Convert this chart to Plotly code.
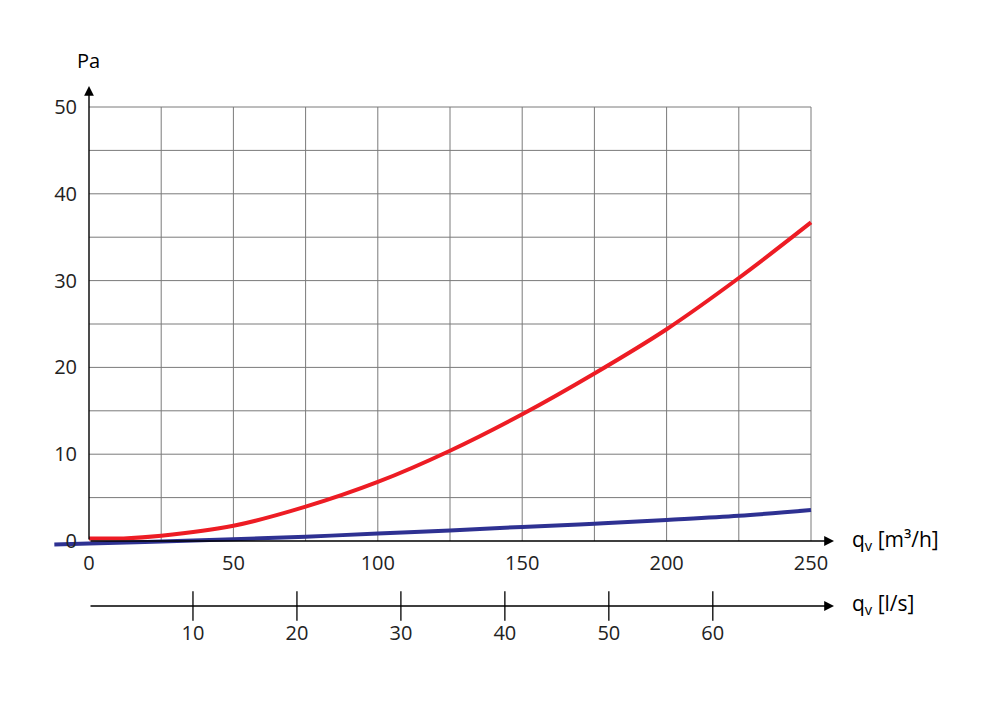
import plotly.graph_objects as go

# ---------------- data ----------------
red_q = [0, 12, 25, 50, 75, 100, 125, 150, 175, 200, 225, 250]
red_pa = [0.3, 0.3, 0.6, 1.75, 3.95, 6.8, 10.4, 14.6, 19.3, 24.4, 30.3, 36.7]

blue_q = [-12, 0, 25, 50, 75, 100, 125, 150, 175, 200, 225, 250]
blue_pa = [-0.4, -0.28, -0.05, 0.2, 0.5, 0.85, 1.22, 1.62, 1.98, 2.42, 2.9, 3.57]

x_ticks = [0, 50, 100, 150, 200, 250]
x_grid = [25, 50, 75, 100, 125, 150, 175, 200, 225, 250]
y_ticks = [0, 10, 20, 30, 40, 50]
y_grid = [5, 10, 15, 20, 25, 30, 35, 40, 45, 50]
ls_ticks = [10, 20, 30, 40, 50, 60]
ls_factor = 3.6  # m3/h per l/s

# ---------------- geometry (page pixel targets) ----------------
W, H = 1000, 706
OFF = 8  # page body margin
left_pg, right_pg, top_pg, bot_pg = 50, 850, 78, 660
ml = left_pg - OFF
mt = top_pg - OFF
mr = W - (right_pg - OFF)
mb = H - (bot_pg - OFF)
pw, ph = right_pg - left_pg, bot_pg - top_pg
x0px, x250px = 89, 811
y0px, y50px = 541, 107
sx = (x250px - x0px) / 250.0
sy = (y0px - y50px) / 50.0
xr = [(left_pg - x0px) / sx, (right_pg - x0px) / sx]
yr = [(y0px - bot_pg) / sy, (y0px - top_pg) / sy]

def px_to_y(p):
    return (y0px - p) / sy

def px_to_x(p):
    return (p - x0px) / sx

def paper_x(p):
    return (p - left_pg) / pw

def paper_y(p):
    return (bot_pg - p) / ph

ls_line_y = px_to_y(606)
font = "Open Sans"

fig = go.Figure()

shapes = []
for g in x_grid:
    shapes.append(dict(type="line", xref="x", yref="y", x0=g, x1=g, y0=0, y1=50,
                       line=dict(color="#7a7a7a", width=1), layer="below"))
for g in y_grid:
    shapes.append(dict(type="line", xref="x", yref="y", x0=0, x1=250, y0=g, y1=g,
                       line=dict(color="#7a7a7a", width=1), layer="below"))

fig.add_trace(go.Scatter(x=blue_q, y=blue_pa, mode="lines",
                         line=dict(color="#2e3192", width=4, shape="spline", smoothing=1.0),
                         hoverinfo="skip", showlegend=False))
fig.add_trace(go.Scatter(x=red_q, y=red_pa, mode="lines",
                         line=dict(color="#ed1c24", width=4, shape="spline", smoothing=1.0),
                         hoverinfo="skip", showlegend=False))

# l/s tick marks
fig.add_trace(go.Scatter(x=ls_ticks, y=[ls_line_y] * len(ls_ticks), xaxis="x2", yaxis="y", mode="markers",
                         marker=dict(symbol="line-ns", size=21, line=dict(color="black", width=1.3)),
                         hoverinfo="skip", showlegend=False))

arrow_common = dict(text="", showarrow=True, arrowhead=2, arrowsize=1.4, arrowwidth=1.4,
                    arrowcolor="black", axref="x", ayref="y", xref="x", yref="y", standoff=0)
annotations = [
    dict(x=0, y=px_to_y(86), ax=0, ay=0, **arrow_common),
    dict(x=px_to_x(834), y=0, ax=0, ay=0, **arrow_common),
    dict(x=px_to_x(834), y=ls_line_y, ax=0, ay=ls_line_y, **arrow_common),
    dict(x=paper_x(75), y=paper_y(60), text="Pa", showarrow=False, xanchor="left", yanchor="middle",
         xref="paper", yref="paper", font=dict(family=font, size=20, color="black")),
    dict(x=paper_x(850), y=paper_y(540), text="q<sub>v</sub> [m³/h]", showarrow=False, xanchor="left",
         yanchor="middle", xref="paper", yref="paper", font=dict(family=font, size=21, color="black")),
    dict(x=paper_x(850), y=paper_y(604), text="q<sub>v</sub> [l/s]", showarrow=False, xanchor="left",
         yanchor="middle", xref="paper", yref="paper", font=dict(family=font, size=21, color="black")),
]

tickfont = dict(family=font, size=20, color="#222222")
fig.update_layout(
    width=W, height=H, margin=dict(l=ml, r=mr, t=mt, b=mb),
    paper_bgcolor="white", plot_bgcolor="white",
    shapes=shapes, annotations=annotations, showlegend=False,
    xaxis=dict(range=xr, anchor="free", position=paper_y(y0px), tickvals=x_ticks,
               showgrid=False, zeroline=False, showline=False, ticks="", tickfont=tickfont,
               ticklabelstandoff=8),
    xaxis2=dict(range=[xr[0] / ls_factor, xr[1] / ls_factor], overlaying="x", anchor="free",
                position=paper_y(606), side="bottom", tickvals=ls_ticks,
                showgrid=False, zeroline=False, showline=False, ticks="", tickfont=tickfont,
                ticklabelstandoff=13),
    yaxis=dict(range=yr, anchor="free", position=paper_x(x0px), tickvals=y_ticks,
               showgrid=False, zeroline=False, showline=False, ticks="", tickfont=tickfont,
               ticklabelstandoff=12),
)

fig.write_html("out.html")
